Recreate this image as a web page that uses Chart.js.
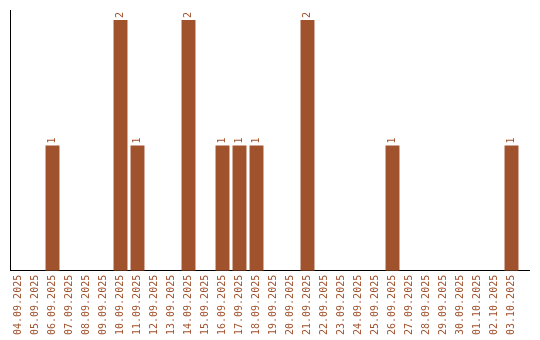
<!DOCTYPE html>
<html>
<head>
<meta charset="utf-8">
<script src="https://cdn.jsdelivr.net/npm/chart.js@4"></script>
<style>
  html, body { margin: 0; padding: 0; background: #fff; }
  #wrap { width: 540px; height: 340px; }
</style>
</head>
<body>
<div id="wrap"><canvas id="myChart" width="540" height="340"></canvas></div>
<script>
// data
const days = ['04.09.2025','05.09.2025','06.09.2025','07.09.2025','08.09.2025','09.09.2025',
  '10.09.2025','11.09.2025','12.09.2025','13.09.2025','14.09.2025','15.09.2025',
  '16.09.2025','17.09.2025','18.09.2025','19.09.2025','20.09.2025','21.09.2025',
  '22.09.2025','23.09.2025','24.09.2025','25.09.2025','26.09.2025','27.09.2025',
  '28.09.2025','29.09.2025','30.09.2025','01.10.2025','02.10.2025','03.10.2025']
const counts = [0,0,1,0,0,0, 2,1,0,0,2,0, 1,1,1,0,0,2, 0,0,0,0,1,0, 0,0,0,0,0,1]

const brown = '#A0522D'

// value above each bar, written sideways
const valueLabels = {
  id: 'valueLabels',
  afterDatasetsDraw(chart) {
    const ctx = chart.ctx
    const meta = chart.getDatasetMeta(0)
    ctx.save()
    ctx.fillStyle = brown
    ctx.font = '10px "DejaVu Sans Mono"'
    ctx.textAlign = 'left'
    ctx.textBaseline = 'middle'
    meta.data.forEach((bar, i) => {
      if (!counts[i]) return
      ctx.save()
      ctx.translate(bar.x, bar.y - 2)
      ctx.rotate(-Math.PI / 2)
      ctx.fillText(String(counts[i]), 0, 0)
      ctx.restore()
    })
    ctx.restore()
  }
}

// x axis line runs a bit past the last day
const axisTail = {
  id: 'axisTail',
  afterDraw(chart) {
    const a = chart.chartArea
    const ctx = chart.ctx
    const y = Math.round(a.bottom - 0.5) + 0.5
    ctx.save()
    ctx.strokeStyle = '#000'
    ctx.lineWidth = 1
    ctx.beginPath()
    ctx.moveTo(a.right, y)
    ctx.lineTo(a.right + 10, y)
    ctx.stroke()
    ctx.restore()
  }
}

const config = {
  type: 'bar',
  data: {
    labels: days,
    datasets: [{
      data: counts,
      backgroundColor: brown,
      borderWidth: 0,
      categoryPercentage: 0.82,
      barPercentage: 1
    }]
  },
  options: {
    responsive: false,
    animation: false,
    layout: { padding: { left: 10, top: 10, right: 20, bottom: 1 } },
    plugins: { legend: { display: false }, tooltip: { enabled: false } },
    scales: {
      x: {
        grid: { display: false, drawTicks: false },
        border: { color: '#000', width: 1 },
        ticks: {
          color: brown,
          autoSkip: false,
          maxRotation: 90,
          minRotation: 90,
          padding: 4,
          font: { family: 'DejaVu Sans Mono', size: 10 }
        }
      },
      y: {
        min: 0,
        max: 2.08,
        grid: { display: false, drawTicks: false },
        border: { color: '#000', width: 1 },
        ticks: { display: false }
      }
    }
  },
  plugins: [valueLabels, axisTail]
}
var myChart = new Chart(document.getElementById('myChart'), config)
</script>
</body>
</html>
